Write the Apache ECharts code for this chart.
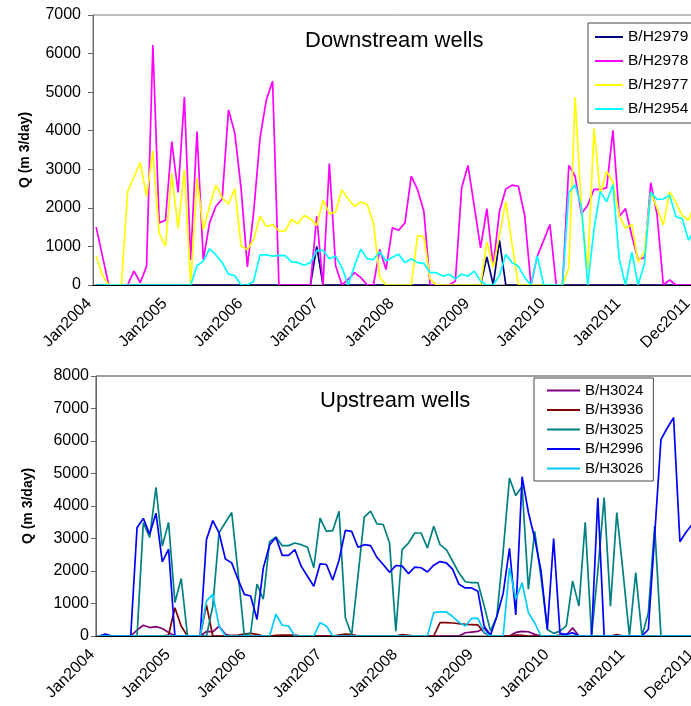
<!DOCTYPE html>
<html>
<head>
<meta charset="utf-8">
<script src="https://cdn.jsdelivr.net/npm/echarts@6/dist/echarts.min.js"></script>
<style>
  html, body { margin: 0; padding: 0; background: #fff; }
  #chart { width: 691px; height: 706px; }
</style>
</head>
<body>
<div id="chart"></div>
<script>
// months Jan2004 .. Dec2011
var monthNames = ['Jan','Feb','Mar','Apr','May','Jun','Jul','Aug','Sep','Oct','Nov','Dec'];
var years = [2004, 2005, 2006, 2007, 2008, 2009, 2010, 2011];
var months = [];
years.forEach(function (y) { monthNames.forEach(function (m) { months.push(m + y); }); });

// ---- downstream wells (m3/day), one row per year ----
var bh2979 = [
  0,0,0,0,0,0,0,0,0,0,0,0,
  0,0,0,0,0,0,0,0,0,0,0,0,
  0,0,0,0,0,0,0,0,0,0,0,1000,
  0,0,0,0,0,0,0,0,0,0,0,0,
  0,0,0,0,0,0,0,0,0,0,0,0,
  0,0,730,0,1160,0,0,0,0,0,0,0,
  0,0,0,0,0,0,0,0,0,0,0,0,
  0,0,0,0,0,0,0,0,0,0,0,0
];
var bh2978 = [
  1500,750,0,0,0,0,360,60,490,6220,1610,1680,
  3720,2400,4870,650,3980,660,1610,2040,2230,4540,3940,2500,
  470,1900,3800,4800,5280,0,0,0,0,0,0,1780,
  0,3150,500,0,150,320,190,0,0,920,400,1480,
  1420,1610,2820,2470,1910,0,0,0,0,100,2520,3100,
  2040,965,1980,490,1910,2490,2590,2560,1800,0,750,1150,
  1570,0,0,3100,2820,1850,2070,2480,2480,2520,4010,1780,
  1980,1270,660,710,2650,1830,0,130,0,0,0,0
];
var bh2977 = [
  750,250,0,0,0,2430,2800,3170,2300,3470,1340,1010,
  2900,1460,2990,0,2780,1440,2040,2590,2260,2100,2500,1010,
  920,1180,1780,1510,1570,1400,1400,1700,1590,1800,1720,1540,
  2200,1850,1890,2470,2230,2040,2150,2090,1610,200,0,0,
  0,0,0,1280,1250,150,0,0,0,0,0,0,
  0,0,1120,450,1300,2160,1050,0,0,0,0,0,
  0,0,0,450,4870,1960,400,4060,2350,2950,2670,1800,
  1470,1570,600,850,2400,2000,1550,2420,2130,1800,1680,2100
];
var bh2954 = [
  0,0,0,0,0,0,0,0,0,0,0,0,
  0,0,0,0,500,620,940,780,580,280,240,0,
  0,100,780,780,750,770,760,600,580,510,580,890,
  900,680,750,450,0,500,930,680,660,860,620,720,
  800,580,680,580,560,320,320,230,280,160,280,230,
  360,100,0,0,250,790,580,490,190,0,760,0,
  0,0,0,2400,2600,2030,0,1440,2420,2160,2600,670,
  0,850,0,550,2400,2220,2230,2330,1770,1720,1160,1450
];

// ---- upstream wells (m3/day) ----
var bh3024 = [
  0,0,0,0,0,0,180,330,260,290,230,110,
  0,0,0,0,0,140,130,300,50,0,0,0,
  0,0,0,0,0,0,0,0,0,0,0,0,
  0,0,0,0,30,0,0,0,0,0,0,0,
  0,0,0,0,0,0,0,0,0,0,100,120,
  140,250,0,0,0,0,110,140,130,50,0,0,
  0,30,30,250,0,0,0,0,0,0,0,0,
  0,0,0,0,0,0,0,0,0,0,0,0
];
var bh3936 = [
  0,0,0,0,0,0,0,0,0,0,0,30,
  870,300,0,0,0,960,0,0,0,20,30,60,
  80,50,0,0,20,30,30,30,0,0,0,0,
  0,0,30,60,40,0,0,0,0,0,0,0,
  40,20,0,0,0,0,410,410,400,380,360,350,
  340,100,0,0,0,0,30,20,0,0,0,0,
  0,0,0,0,0,0,0,0,0,0,40,0,
  0,0,0,0,0,0,0,0,0,0,0,0
];
var bh3025 = [
  0,0,0,0,0,0,0,3490,3030,4570,2770,3490,
  1030,1770,0,0,0,0,920,3180,3490,3800,1950,0,
  100,1600,1130,2900,3050,2780,2780,2860,2810,2730,2100,3630,
  3220,3240,3840,560,30,1840,3660,3840,3450,3430,2860,150,
  2660,2860,3170,3170,2710,3380,2810,2660,2300,1940,1670,1640,
  1640,920,150,600,2600,4860,4320,4600,1440,3220,1800,200,
  80,150,310,1690,920,3500,0,2000,4260,920,3800,1950,
  0,1950,0,720,3380,0,0,0,0,0,0,0
];
var bh2996 = [
  0,60,0,0,0,0,3330,3620,3130,3780,2280,2670,
  0,0,0,0,0,2970,3550,3170,2370,2250,1740,1280,
  1230,510,2090,2800,3030,2480,2480,2660,2150,1840,1530,2220,
  2200,1720,2330,3250,3220,2730,2810,2780,2420,2200,1960,2170,
  2150,1920,2120,2100,1970,2180,2290,2250,2050,1590,1480,1480,
  1380,290,20,610,1310,2700,650,4900,3800,3000,2000,200,
  3000,80,50,100,0,0,0,4250,0,0,0,0,
  0,0,0,200,3100,6050,6400,6720,2900,3200,3450,3550
];
var bh3026 = [
  0,0,0,0,0,0,0,0,0,0,0,0,
  0,0,0,0,0,1080,1280,300,0,0,0,0,
  0,0,0,0,670,330,310,0,0,0,0,410,
  310,0,0,0,0,0,0,0,0,0,0,0,
  0,0,0,0,0,720,740,740,600,420,310,540,
  540,120,0,0,0,2100,1130,1640,720,400,0,0,
  0,0,0,0,0,0,0,0,0,0,0,0,
  0,0,0,0,0,0,0,0,0,0,0,0
];

var font = 'Arial, "Liberation Sans", sans-serif';

function well(name, data, color, idx) {
  return {
    name: name, type: 'line', data: data,
    xAxisIndex: idx, yAxisIndex: idx,
    symbol: 'none', color: color,
    lineStyle: { width: 1.7, color: color },
    z: 2
  };
}

function xAxisCfg(idx) {
  return {
    type: 'category', gridIndex: idx, data: months, boundaryGap: true, z: 5,
    axisLine: { lineStyle: { color: '#000', width: 1 } },
    axisTick: { interval: 0, length: 5, lineStyle: { color: '#000' } },
    axisLabel: {
      interval: function (i) { return i % 12 === 0 || i === months.length - 1; },
      rotate: 45, margin: 9, padding: [0, 10, 0, 0],
      fontSize: 16, color: '#000', fontFamily: font
    },
    splitLine: { show: false }
  };
}

function yAxisCfg(idx, max, margin) {
  return {
    type: 'value', gridIndex: idx, min: 0, max: max, interval: 1000,
    name: 'Q (m 3/day)', nameLocation: 'middle', nameGap: 61,
    nameTextStyle: { fontSize: 14, fontWeight: 'bold', color: '#000', fontFamily: font },
    axisLine: { show: true, lineStyle: { color: '#666' } },
    axisTick: { show: true, length: 5, lineStyle: { color: '#666' } },
    axisLabel: { fontSize: 16, color: '#000', fontFamily: font, margin: margin,
      formatter: function (v) { return String(v); } },
    splitLine: { show: false }
  };
}

var chart = echarts.init(document.getElementById('chart'));
chart.setOption({
  animation: false,
  backgroundColor: '#fff',
  title: [
    { text: 'Downstream wells', left: 305, top: 30, padding: 0,
      textStyle: { fontSize: 22, fontWeight: 'normal', color: '#000', fontFamily: font } },
    { text: 'Upstream wells', left: 320, top: 390, padding: 0,
      textStyle: { fontSize: 22, fontWeight: 'normal', color: '#000', fontFamily: font } }
  ],
  legend: [
    { data: ['B/H2979', 'B/H2978', 'B/H2977', 'B/H2954'],
      orient: 'vertical', left: 588, top: 23, padding: [6, 14, 6, 7],
      itemGap: 8, itemWidth: 28, itemHeight: 2, icon: 'rect',
      borderColor: '#444', borderWidth: 1, backgroundColor: '#fff',
      textStyle: { fontSize: 15.5, lineHeight: 16, color: '#000', fontFamily: font } },
    { data: ['B/H3024', 'B/H3936', 'B/H3025', 'B/H2996', 'B/H3026'],
      orient: 'vertical', left: 534, top: 378, padding: [5, 10, 5, 13],
      itemGap: 4.5, itemWidth: 33, itemHeight: 2, icon: 'rect',
      borderColor: '#444', borderWidth: 1, backgroundColor: '#fff',
      textStyle: { fontSize: 15, lineHeight: 15, color: '#000', fontFamily: font } }
  ],
  grid: [
    { left: 93, top: 15, width: 605, height: 270, outerBoundsMode: 'none', containLabel: false,
      show: true, borderColor: '#808080', borderWidth: 1 },
    { left: 96, top: 376, width: 606, height: 260, outerBoundsMode: 'none', containLabel: false,
      show: true, borderColor: '#404040', borderWidth: 1 }
  ],
  xAxis: [xAxisCfg(0), xAxisCfg(1)],
  yAxis: [yAxisCfg(0, 7000, 12), yAxisCfg(1, 8000, 7)],
  series: [
    well('B/H2979', bh2979, '#000080', 0),
    well('B/H2978', bh2978, '#FF00FF', 0),
    well('B/H2977', bh2977, '#FFFF00', 0),
    well('B/H2954', bh2954, '#00FFFF', 0),
    well('B/H3024', bh3024, '#800080', 1),
    well('B/H3936', bh3936, '#800000', 1),
    well('B/H3025', bh3025, '#008080', 1),
    well('B/H2996', bh2996, '#0000FF', 1),
    well('B/H3026', bh3026, '#00CCFF', 1)
  ]
});
</script>
</body>
</html>
